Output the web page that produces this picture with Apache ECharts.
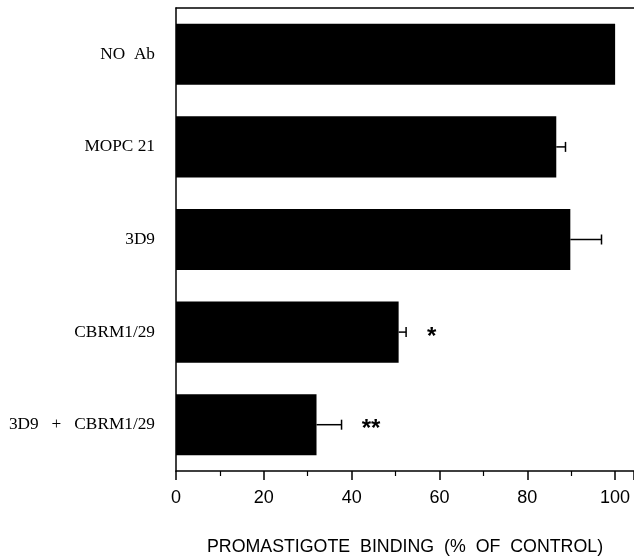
<!DOCTYPE html>
<html><head><meta charset="utf-8">
<script src="https://cdn.jsdelivr.net/npm/echarts@6/dist/echarts.min.js"></script>
<style>html,body{margin:0;padding:0;background:#fff}#c{width:634px;height:558px}</style>
</head><body><div id="c"></div>
<script>
const categories = ['NO  Ab', 'MOPC 21', '3D9', 'CBRM1/29', '3D9   +   CBRM1/29'];
const values = [100, 86.6, 89.8, 50.7, 32.0];
const errors = [0, 2.1, 7.1, 1.7, 5.7];
const sigMarks = ['', '', '', '*', '**'];
const sigPos = [null, null, null, 58.2, 44.4];
const xTicks = [0, 20, 40, 60, 80, 100];

const chart = echarts.init(document.getElementById('c'), null, {renderer: 'canvas'});
const errData = values.map((v, i) => [v, i, errors[i]]);
const sigData = sigPos.map((p, i) => [p, i, sigMarks[i]]).filter(d => d[0] !== null);

chart.setOption({
  animation: false,
  grid: {left: 176, top: 8, width: 458, height: 463, containLabel: false, outerBoundsMode: 'none'},
  xAxis: [{
    type: 'value', min: 0, max: 104.3, interval: 20,
    axisLine: {show: true, lineStyle: {color: '#000', width: 1.5}},
    axisTick: {show: true, length: 9, lineStyle: {color: '#000', width: 1.5}},
    minorTick: {show: true, splitNumber: 2, length: 5, lineStyle: {color: '#000', width: 1.2}},
    splitLine: {show: false},
    axisLabel: {
      color: '#000', fontFamily: 'Liberation Sans', fontSize: 18, margin: 18,
      showMaxLabel: false,
      formatter: v => xTicks.indexOf(v) >= 0 ? String(v) : ''
    },
    name: 'PROMASTIGOTE  BINDING  (%  OF  CONTROL)',
    nameLocation: 'middle', nameGap: 67,
    nameTextStyle: {color: '#000', fontFamily: 'Liberation Sans', fontSize: 17.8}
  }, {
    type: 'value', position: 'top', min: 0, max: 104.3,
    axisLine: {show: true, onZero: false, lineStyle: {color: '#000', width: 1.5}},
    axisTick: {show: false}, axisLabel: {show: false}, splitLine: {show: false}
  }],
  yAxis: {
    type: 'category', data: categories, inverse: true,
    axisLine: {show: true, lineStyle: {color: '#000', width: 1.5}},
    axisTick: {show: false},
    axisLabel: {color: '#000', fontFamily: 'Liberation Serif', fontSize: 17.3, margin: 21}
  },
  series: [{
    type: 'bar', data: values, barCategoryGap: '34%',
    itemStyle: {color: '#000'}
  }, {
    type: 'custom',
    data: errData,
    renderItem: function (params, api) {
      const v = api.value(0), i = api.value(1), e = api.value(2);
      if (!e) return null;
      const p0 = api.coord([v, i]);
      const p1 = api.coord([v + e, i]);
      const h = 5;
      return {type: 'group', children: [
        {type: 'line', shape: {x1: p0[0], y1: p0[1], x2: p1[0], y2: p1[1]}, style: {stroke: '#000', lineWidth: 1.5}},
        {type: 'line', shape: {x1: p1[0], y1: p1[1] - h, x2: p1[0], y2: p1[1] + h}, style: {stroke: '#000', lineWidth: 1.5}}
      ]};
    },
    z: 5
  }, {
    type: 'custom',
    data: sigData,
    renderItem: function (params, api) {
      const p = api.coord([api.value(0), api.value(1)]);
      return {type: 'text', x: p[0], y: p[1] + 5, style: {
        text: sigMarks[api.value(1)], fill: '#000', fontSize: 24, fontWeight: 'bold',
        fontFamily: 'Liberation Sans', align: 'center', verticalAlign: 'middle'
      }};
    },
    z: 6
  }]
});
</script></body></html>
